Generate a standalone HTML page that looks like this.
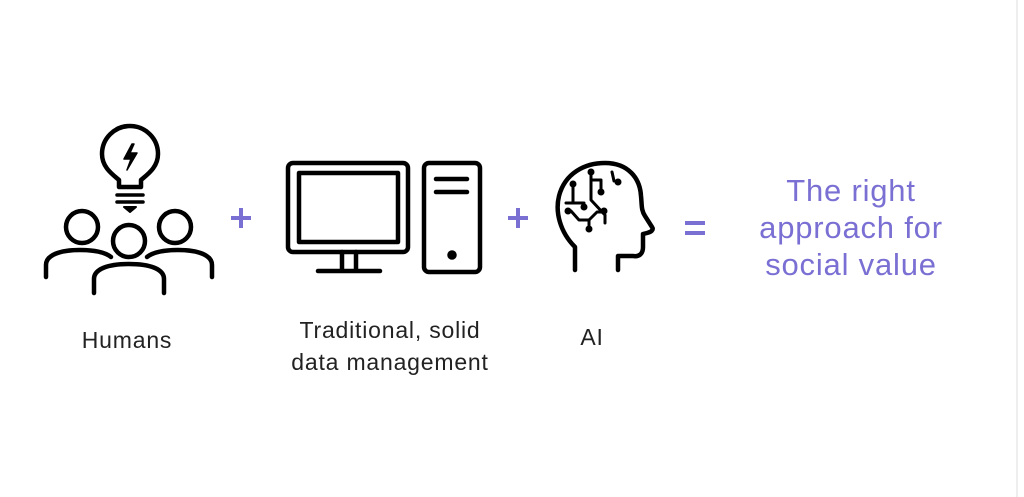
<!DOCTYPE html>
<html><head><style>
html,body{margin:0;padding:0;background:#fff;}
body{width:1024px;height:497px;overflow:hidden;position:relative;font-family:"Liberation Sans",sans-serif;}
.t{position:absolute;color:#222;font-size:23px;letter-spacing:0.8px;text-align:center;line-height:32px;}
.p{position:absolute;color:#7a6fd3;text-align:center;}
</style></head><body>
<svg width="1024" height="497" style="position:absolute;left:0;top:0" fill="none" stroke="#000" stroke-width="4.5" stroke-linecap="round" stroke-linejoin="round">
<line x1="1017" y1="0" x2="1017" y2="497" stroke="#eee" stroke-width="2"/>
<path d="M119,187 L119,180 C112,174 102,167 102,154 A28,28 0 1 1 158,154 C158,167 148,174 141,180 L141,187 Z"/>
<line x1="117" y1="195" x2="143" y2="195" stroke-width="3.5"/>
<line x1="117" y1="202" x2="143" y2="202" stroke-width="3.5"/>
<path d="M124,207 L136,207 L130,212 Z" fill="#000" stroke-width="2"/>
<path d="M132,144 L124,159 L131,159 L127,170 L137,153 L130,153 L134,144 Z" fill="#000" stroke-width="1.5"/>
<circle cx="82" cy="227" r="16"/>
<circle cx="175" cy="227" r="16"/>
<circle cx="129" cy="241" r="16"/>
<path d="M46,277 L46,265 C46,255 60,250 80,250 C96,250 106,253 111,257"/>
<path d="M212,277 L212,265 C212,255 198,250 178,250 C162,250 152,253 147,257"/>
<path d="M94,293 L94,279 C94,269 108,264 129,264 C150,264 164,269 164,279 L164,293"/>
<rect x="288" y="163" width="120" height="89" rx="5"/>
<rect x="299" y="173" width="99" height="69"/>
<line x1="342" y1="252" x2="342" y2="270"/>
<line x1="356" y1="252" x2="356" y2="270"/>
<line x1="318" y1="271" x2="380" y2="271"/>
<rect x="424" y="163" width="56" height="109" rx="5"/>
<line x1="436" y1="179" x2="467" y2="179"/>
<line x1="436" y1="192" x2="467" y2="192"/>
<circle cx="452" cy="255" r="2.5" fill="#000"/>
<path d="M575,270 L575,247 C560,232 555,212 559,196 C565,173 585,163 605,163 C628,163 640,178 641,196 C642,205 641,210 645,216 L652,227 C654,230 651,232 647,233 L643,234 L643,247 C643,254 639,257 633,256 L618,256 L618,270"/>
<g stroke-width="3">
<path d="M591,172 L591,200 L605,215 L605,223 M605,215 L600,210"/>
<path d="M591,180 L601,180 L601,192"/>
<path d="M573,194 L573,203 L584,203 L584,207 M566,203 L573,203"/>
<path d="M571,211 L579,220 L589,220 L597,212 L604,212 M589,220 L589,229"/>
<path d="M612,172 L614,181"/>
<path d="M573,184 L573,194"/>
</g>
<g fill="#000" stroke="none">
<circle cx="591" cy="172" r="3.5"/><circle cx="601" cy="192" r="3.5"/><circle cx="573" cy="184" r="3.5"/>
<circle cx="584" cy="207" r="3.5"/><circle cx="568" cy="211" r="3.5"/><circle cx="604" cy="211" r="3.5"/>
<circle cx="589" cy="229" r="3.5"/><circle cx="618" cy="182" r="3.5"/>
</g>
<g stroke="#7a6fd3" stroke-width="4" stroke-linecap="butt">
<line x1="231" y1="218" x2="251" y2="218"/><line x1="241" y1="208" x2="241" y2="228"/>
<line x1="508" y1="218" x2="528" y2="218"/><line x1="518" y1="208" x2="518" y2="228"/>
<line x1="685" y1="223" x2="705" y2="223"/><line x1="685" y1="233" x2="705" y2="233"/>
</g>
</svg>
<div class="t" style="left:47px;top:324px;width:160px;">Humans</div>
<div class="t" style="left:250px;top:314px;width:280px;">Traditional, solid<br>data management</div>
<div class="t" style="left:562px;top:321px;width:60px;">AI</div>
<div class="p" style="left:720px;top:172px;width:262px;font-size:31px;letter-spacing:0.8px;line-height:37px;">The right<br>approach for<br>social value</div>
</body></html>
